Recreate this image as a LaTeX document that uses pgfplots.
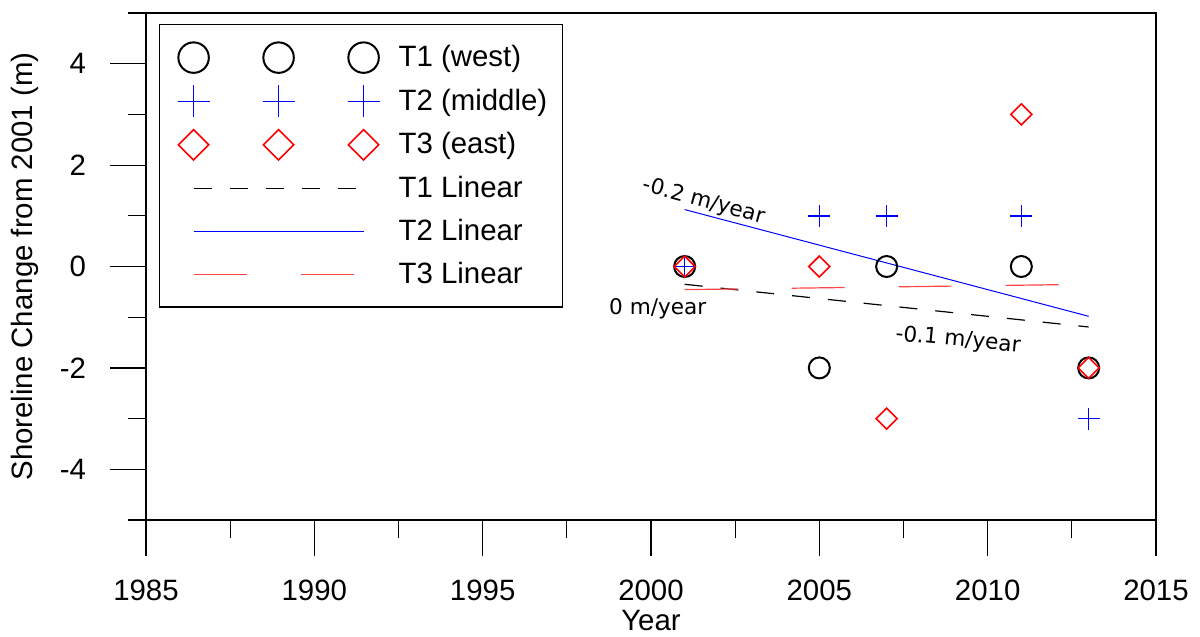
\documentclass[border=0pt]{standalone}
\usepackage{pgfplots}
\pgfplotsset{compat=1.18}
\usepackage{fontspec}
\setmainfont{Liberation Sans}
\newfontfamily\annfont{DejaVu Sans}
\definecolor{linred}{RGB}{255,70,70}
\pgfplotsset{
  legmarks/.style={legend image code/.code={
     \path (-9pt,-10.5pt) (102pt,10.5pt);
     \draw[mark repeat=1,mark phase=1,every mark/.append style={scale=1.45}] plot coordinates {(0pt,0pt)(42.5pt,0pt)(85pt,0pt)};}},
  leglines/.style={legend image code/.code={
     \path (-9pt,-10.5pt) (102pt,10.5pt);
     \draw (0pt,0pt) -- (85pt,0pt);}},
}
\begin{document}
\begin{tikzpicture}
\useasboundingbox (-73pt,-58.5pt) rectangle (527pt,260pt);
\begin{axis}[
  scale only axis, width=505pt, height=253.5pt,
  xmin=1985, xmax=2015, ymin=-5, ymax=5,
  xtick={1985,1990,...,2015}, minor xtick={1987.5,1992.5,...,2012.5},
  ytick={-4,-2,...,4}, minor ytick={-5,-3,...,5},
  tick pos=left, tick align=outside,
  major tick length=18pt, minor tick length=9pt,
  axis line style={line width=0.8pt},
  every tick/.style={black, line width=0.6pt},
  /pgf/number format/assume math mode=true,
  /pgf/number format/1000 sep={},
  tick label style={font=\fontsize{14.7}{16}\selectfont},
  xticklabel style={anchor=center, yshift=-17pt},
  yticklabel style={anchor=east, xshift=-8.5pt},
  every axis x label/.style={at={(axis description cs:0.5,-0.199)}, anchor=center},
  every axis y label/.style={at={(axis description cs:-0.1198,0.5)}, rotate=90, anchor=center},
  label style={font=\fontsize{14.7}{16}\selectfont},
  xlabel={Year},
  ylabel={Shoreline Change from 2001 (m)},
  legend style={at={(0,1)}, anchor=north west, xshift=6.5pt, yshift=-5.5pt,
    font=\fontsize{14.7}{16}\selectfont, draw=black, line width=0.6pt,
    inner xsep=7.5pt, inner ysep=5.5pt, row sep=0pt,
    nodes={inner sep=0pt}},
  legend cell align=left,
]
\addplot[legmarks, only marks, black, mark=o, mark size=5.25pt, line width=1pt]
  coordinates {(2001,0) (2005,-2) (2007,0) (2011,0) (2013,-2)};
\addlegendentry{T1 (west)}
\addplot[legmarks, only marks, blue, mark=+, mark size=5.5pt, line width=0.7pt]
  coordinates {(2001,0) (2005,1) (2007,1) (2011,1) (2013,-3)};
\addlegendentry{T2 (middle)}
\addplot[legmarks, only marks, red, mark=square, mark options={rotate=45}, mark size=3.7pt, line width=0.8pt]
  coordinates {(2001,0) (2005,0) (2007,-3) (2011,3) (2013,-2)};
\addlegendentry{T3 (east)}
\addplot[leglines, black, line width=0.6pt, dash pattern=on 9pt off 9pt]
  coordinates {(2001,-0.351) (2013,-1.193)};
\addlegendentry{T1 Linear}
\addplot[leglines, blue, line width=0.5pt]
  coordinates {(2001,1.123) (2013,-0.982)};
\addlegendentry{T2 Linear}
\addplot[leglines, linred, line width=0.6pt, dash pattern=on 26.5pt off 27pt]
  coordinates {(2001,-0.456) (2013,-0.351)};
\addlegendentry{T3 Linear}
\node[font=\annfont\fontsize{10.8}{12}\selectfont, rotate=-15] at (axis cs:2001.57,1.28) {-0.2 m/year};
\node[font=\annfont\fontsize{10.8}{12}\selectfont] at (axis cs:2000.2,-0.83) {0 m/year};
\node[font=\annfont\fontsize{10.8}{12}\selectfont, rotate=-5.5] at (axis cs:2009.12,-1.46) {-0.1 m/year};
\end{axis}
\end{tikzpicture}
\end{document}
